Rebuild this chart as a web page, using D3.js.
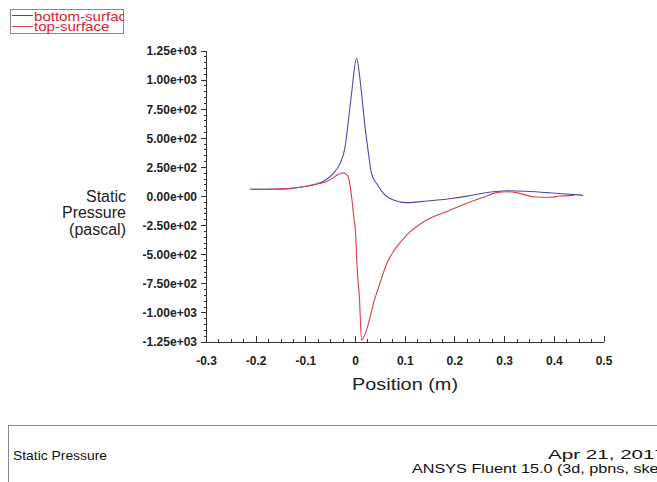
<!DOCTYPE html>
<html>
<head>
<meta charset="utf-8">
<script src="https://cdn.jsdelivr.net/npm/d3@7"></script>
<style>
  body { margin: 0; background: #fff; }
  svg { display: block; font-family: "Liberation Sans", Arial, sans-serif; }
</style>
</head>
<body>
<script>
// series: [position (m), static pressure (pascal)]
var bottomX = [-0.212, -0.16, -0.13, -0.105, -0.078, -0.058, -0.045, -0.031, -0.021, -0.015, -0.008, 0.002,
  0.012, 0.019, 0.026, 0.032, 0.042, 0.056, 0.076, 0.103, 0.143, 0.197, 0.237, 0.277, 0.311, 0.344, 0.385, 0.425, 0.458];
var bottomP = [62, 65, 70, 84, 107, 148, 199, 285, 428, 629, 887, 1187,
  887, 600, 371, 199, 113, 27, -30, -53, -39, -15, 13, 41, 50, 45, 33, 21, 10];

var topX = [-0.212, -0.16, -0.13, -0.105, -0.078, -0.058, -0.045, -0.035, -0.025, -0.016, -0.008, -0.004,
  0.0, 0.003, 0.008, 0.012, 0.026, 0.036, 0.049, 0.063, 0.083, 0.103, 0.143, 0.183, 0.224, 0.257,
  0.284, 0.304, 0.324, 0.358, 0.391, 0.411, 0.44];
var topP = [62, 65, 70, 84, 108, 128, 160, 190, 203, 180, 0, -160,
  -314, -603, -889, -1235, -1090, -918, -746, -574, -431, -331, -202, -131, -58, -7,
  33, 41, 33, -2, -7, 4, 10];

var seriesNames = ["bottom-surface", "top-surface"];
var seriesColors = ["#4a4aa8", "#d8404c"];

var xTicks = [-0.3, -0.2, -0.1, 0, 0.1, 0.2, 0.3, 0.4, 0.5];
var xTickLabels = ["-0.3", "-0.2", "-0.1", "0", "0.1", "0.2", "0.3", "0.4", "0.5"];
var yTicks = [1250, 1000, 750, 500, 250, 0, -250, -500, -750, -1000, -1250];
var yTickLabels = ["1.25e+03", "1.00e+03", "7.50e+02", "5.00e+02", "2.50e+02", "0.00e+00",
  "-2.50e+02", "-5.00e+02", "-7.50e+02", "-1.00e+03", "-1.25e+03"];

var width = 657, height = 482;

var svg = d3.select("body").append("svg")
  .attr("width", width)
  .attr("height", height);

var x = d3.scaleLinear().domain([-0.3, 0.5]).range([206.5, 604]);
var y = d3.scaleLinear().domain([-1250, 1250]).range([342, 51]);

var axisColor = "#333";

// minor ticks
var xMinor = d3.range(-0.3, 0.5001, 0.025);
var yMinor = d3.range(-1250, 1250.1, 50);

var axes = svg.append("g").attr("stroke", axisColor).attr("stroke-width", 1).attr("shape-rendering", "crispEdges");

axes.append("line")
  .attr("x1", x(-0.3)).attr("x2", x(0.5))
  .attr("y1", y(-1250)).attr("y2", y(-1250));
axes.append("line")
  .attr("x1", x(-0.3)).attr("x2", x(-0.3))
  .attr("y1", y(-1250)).attr("y2", y(1250));

axes.selectAll(".xminor").data(xMinor).enter().append("line")
  .attr("x1", d => x(d)).attr("x2", d => x(d))
  .attr("y1", y(-1250)).attr("y2", y(-1250) - 3);
axes.selectAll(".xmajor").data(xTicks).enter().append("line")
  .attr("x1", d => x(d)).attr("x2", d => x(d))
  .attr("y1", y(-1250)).attr("y2", y(-1250) - 6);

axes.selectAll(".yminor").data(yMinor).enter().append("line")
  .attr("x1", x(-0.3)).attr("x2", x(-0.3) - 3)
  .attr("y1", d => y(d)).attr("y2", d => y(d));
axes.selectAll(".ymajor").data(yTicks).enter().append("line")
  .attr("x1", x(-0.3)).attr("x2", x(-0.3) - 6)
  .attr("y1", d => y(d)).attr("y2", d => y(d));

svg.selectAll(".xlab").data(xTicks).enter().append("text")
  .attr("x", d => x(d))
  .attr("y", 365)
  .attr("text-anchor", "middle")
  .attr("font-size", 12)
  .attr("font-weight", "bold")
  .attr("fill", "#222")
  .text((d, i) => xTickLabels[i]);

svg.selectAll(".ylab").data(yTicks).enter().append("text")
  .attr("x", 197)
  .attr("y", d => y(d))
  .attr("dy", "0.36em")
  .attr("text-anchor", "end")
  .attr("font-size", 12)
  .attr("font-weight", "bold")
  .attr("fill", "#222")
  .text((d, i) => yTickLabels[i]);

// axis titles
var yTitle = svg.append("text")
  .attr("text-anchor", "end")
  .attr("font-size", 16)
  .attr("fill", "#222");
["Static", "Pressure", "(pascal)"].forEach(function (s, i) {
  yTitle.append("tspan").attr("x", 126).attr("y", 201.5 + i * 16.5).text(s);
});

svg.append("text")
  .attr("x", 352)
  .attr("y", 390)
  .attr("font-size", 17)
  .attr("textLength", 106)
  .attr("lengthAdjust", "spacingAndGlyphs")
  .attr("fill", "#222")
  .text("Position (m)");

// curves
var line = d3.line()
  .x(d => x(d[0]))
  .y(d => y(d[1]))
  .curve(d3.curveMonotoneX);

var series = [
  d3.zip(bottomX, bottomP),
  d3.zip(topX, topP)
];

svg.selectAll(".curve").data(series).enter().append("path")
  .attr("d", line)
  .attr("fill", "none")
  .attr("stroke", (d, i) => seriesColors[i])
  .attr("stroke-width", 1.1);

// legend
var legend = svg.append("g");
legend.append("clipPath").attr("id", "legclip")
  .append("rect").attr("x", 0).attr("y", 0).attr("width", 124).attr("height", 40);
legend.append("rect")
  .attr("x", 10.5).attr("y", 9.5).attr("width", 113).attr("height", 24)
  .attr("fill", "none").attr("stroke", "#888");
var legItems = legend.selectAll(".li").data(seriesNames).enter().append("g")
  .attr("clip-path", "url(#legclip)");
legItems.append("line")
  .attr("x1", 12).attr("x2", 33)
  .attr("y1", (d, i) => 15.5 + i * 11).attr("y2", (d, i) => 15.5 + i * 11)
  .attr("stroke", (d, i) => seriesColors[i]);
legItems.append("text")
  .attr("transform", (d, i) => "translate(34," + (20.5 + i * 10) + ") scale(1.16,1)")
  .attr("font-size", 13)
  .attr("fill", "#d8202c")
  .text(d => d);

// footer box
svg.append("rect")
  .attr("x", 8.5).attr("y", 425.5).attr("width", 700).attr("height", 80)
  .attr("fill", "none").attr("stroke", "#888");
svg.append("text")
  .attr("x", 13).attr("y", 459.5)
  .attr("font-size", 13).attr("fill", "#111")
  .attr("textLength", 94).attr("lengthAdjust", "spacingAndGlyphs")
  .text("Static Pressure");
svg.append("text")
  .attr("x", 548).attr("y", 459)
  .attr("font-size", 13).attr("fill", "#111")
  .attr("textLength", 118).attr("lengthAdjust", "spacingAndGlyphs")
  .text("Apr 21, 2017");
svg.append("text")
  .attr("x", 412).attr("y", 473)
  .attr("font-size", 13).attr("fill", "#111")
  .attr("textLength", 252).attr("lengthAdjust", "spacingAndGlyphs")
  .text("ANSYS Fluent 15.0 (3d, pbns, ske)");
</script>
</body>
</html>
